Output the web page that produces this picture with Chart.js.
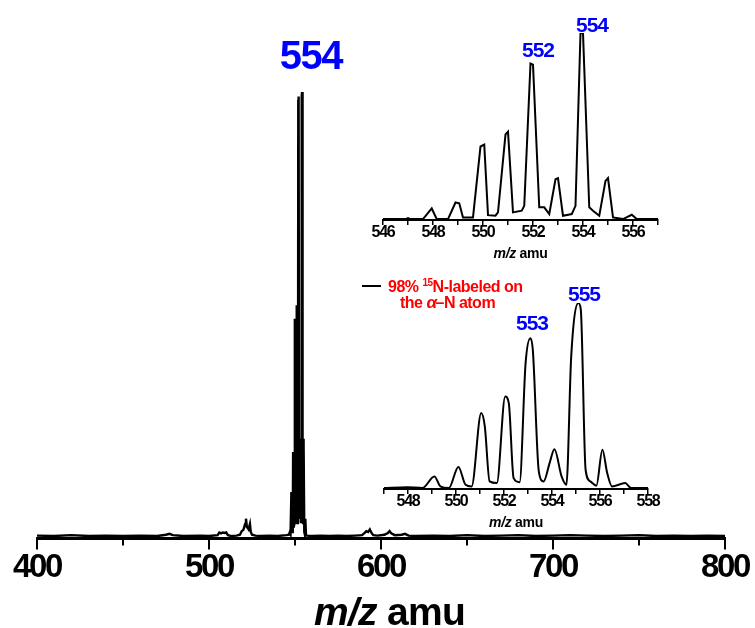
<!DOCTYPE html>
<html><head><meta charset="utf-8">
<script src="https://cdn.jsdelivr.net/npm/chart.js@4"></script>
<style>
html,body{margin:0;padding:0;background:#fff;}
#wrap{position:relative;width:755px;height:628px;overflow:hidden;background:#fff;}
canvas{position:absolute;}
#main{left:0;top:0;}
#in1{left:340px;top:0;}
#in2{left:340px;top:270px;}
</style></head><body>
<div id="wrap">
<canvas id="main" width="755" height="628"></canvas>
<canvas id="in1" width="360" height="270"></canvas>
<canvas id="in2" width="360" height="270"></canvas>
</div>
<script>
// ---------------- DATA ----------------
// Main spectrum (m/z, relative intensity)
const mainMz = [400,410,420,430,440,450,460,470,475,477,479,485,495,500,
  505,506,507,508,509,510,511,513,516,
  518,519,520,521,521.5,522,523,523.8,524.3,525,527,530,535,540,545,546.5,547,
  547.4,547.9,548.1,548.4,548.7,548.9,549.1,549.4,549.7,549.9,550.1,550.4,550.7,550.9,551.1,551.4,551.7,551.9,552.1,552.4,552.7,552.9,553.1,553.4,553.7,553.9,554.1,554.4,554.7,554.9,555.1,555.4,555.7,556,556.4,557,
  560,565,570,575,580,585,589,590.5,591.5,592.5,593.5,594.5,595.5,598,602,604,605,606,608,612,614,616,620,
  630,640,650,660,670,680,690,700,710,720,730,740,750,760,770,780,790,800];
const mainIntensity = [0.002,0.001,0.003,0.001,0.002,0.001,0.002,0.001,0.004,0.006,0.003,0.001,0.002,0.001,
  0.003,0.009,0.007,0.009,0.008,0.009,0.003,0.001,0.002,
  0.004,0.012,0.015,0.028,0.04,0.022,0.016,0.028,0.01,0.004,0.002,0.001,0.002,0.001,0.003,0.004,0.01,
  0.006,0.10,0.10,0.01,0.02,0.19,0.18,0.02,0.03,0.49,0.48,0.03,0.03,0.51,0.52,0.03,0.04,0.98,0.99,0.05,0.04,0.22,0.21,0.03,0.05,0.99,1.0,0.05,0.03,0.22,0.21,0.01,0.005,0.04,0.003,0.002,
  0.001,0.002,0.001,0.002,0.001,0.002,0.003,0.008,0.012,0.01,0.016,0.008,0.003,0.002,0.004,0.008,0.012,0.007,0.003,0.004,0.006,0.002,0.001,
  0.002,0.001,0.003,0.001,0.002,0.003,0.001,0.002,0.003,0.002,0.001,0.002,0.003,0.001,0.002,0.001,0.002,0.001];
const mainMajorTicks = [400,500,600,700,800];
const mainMinorTicks = [450,550,650,750];
const mainPeakLabels = ['554'];
const mainPeakMz = [554];

// Inset 1 (unlabeled)
const inset1Mz = [546.0,546.9,547.0,547.1,547.6,547.95,548.15,548.6,548.9,549.05,549.2,549.6,549.9,550.05,550.2,550.5,550.6,550.9,551.0,551.2,551.55,551.65,551.9,552.0,552.25,552.45,552.65,552.9,553.0,553.2,553.55,553.7,553.9,554.0,554.25,554.4,554.65,554.9,555.0,555.2,555.6,555.95,556.15,557.0];
const inset1Intensity = [0,0,0.005,0,0,0.057,0,0,0.089,0.085,0.009,0.009,0.39,0.40,0.021,0.018,0.036,0.455,0.47,0.036,0.045,0.071,0.836,0.83,0.063,0.063,0.027,0.214,0.22,0.018,0.027,0.071,1.0,1.0,0.063,0.045,0.018,0.205,0.22,0.009,0,0.023,0,0];
const inset1TickValues = [546,547,548,549,550,551,552,553,554,555,556,557];
const inset1PeakLabels = ['552','554'];
const inset1PeakMz = [552,554];

// Inset 2 (98% 15N-labeled)
const inset2Mz = [547.0,547.95,548.6,549.1,549.35,549.7,550.1,550.4,550.65,551.05,551.2,551.4,551.7,552.05,552.2,552.4,552.65,552.9,553.1,553.2,553.45,553.65,553.9,554.1,554.4,554.6,554.8,555.1,555.2,555.4,555.6,555.85,556.1,556.3,556.5,557.05,557.3,558.0];
const inset2Intensity = [0,0.005,0,0.063,0.009,0,0.114,0.018,0.009,0.405,0.333,0.036,0.027,0.495,0.459,0.054,0.032,0.676,0.81,0.748,0.090,0.036,0.135,0.21,0.063,0.018,0.710,1.0,0.964,0.099,0.036,0.013,0.207,0.081,0.009,0.027,0,0];
const inset2TickValues = [547,548,549,550,551,552,553,554,555,556,557,558];
const inset2PeakLabels = ['553','555'];
const inset2PeakMz = [553,555];

const legendLine1 = ['98% ', '15', 'N-labeled on'];
const legendLine2 = ['the ', '\u03B1', '\u2013N atom'];
const axisTitleItalic = 'm/z';
const axisTitleRest = ' amu';

// ---------------- STYLE ----------------
const FONT = '"Liberation Sans", Arial, Helvetica, sans-serif';
const BLUE = '#0000ff';
const RED = '#ff0000';

function toXY(xs, ys){ return xs.map((x,i)=>({x:x, y:ys[i]})); }
function peakValue(xs, ys, m){ let best=0; xs.forEach((x,i)=>{ if(Math.abs(x-m)<=0.25 && ys[i]>best) best=ys[i]; }); return best; }

function spacingPlugin(sp){
  return {
    id:'spacing',
    beforeLayout(c){ c.ctx.letterSpacing = sp; },
    beforeDraw(c){ c.ctx.letterSpacing = sp; }
  };
}

function drawTitle(ctx, cx, baseline, size, spacing){
  ctx.save();
  ctx.letterSpacing = spacing;
  ctx.fillStyle = '#000';
  ctx.textBaseline = 'alphabetic';
  ctx.textAlign = 'left';
  ctx.font = 'italic bold ' + size + 'px ' + FONT;
  const w1 = ctx.measureText(axisTitleItalic).width;
  ctx.font = 'bold ' + size + 'px ' + FONT;
  const w2 = ctx.measureText(axisTitleRest).width;
  let x = cx - (w1 + w2)/2;
  ctx.font = 'italic bold ' + size + 'px ' + FONT;
  ctx.fillText(axisTitleItalic, x, baseline);
  ctx.font = 'bold ' + size + 'px ' + FONT;
  ctx.fillText(axisTitleRest, x + w1, baseline);
  ctx.restore();
}

function drawPeakLabels(chart, labels, mzs, xsData, ysData, size, offsets, spacing){
  const ctx = chart.ctx, xs = chart.scales.x, ys = chart.scales.y;
  ctx.save();
  ctx.letterSpacing = spacing;
  ctx.fillStyle = BLUE;
  ctx.font = 'bold ' + size + 'px ' + FONT;
  ctx.textAlign = 'center';
  ctx.textBaseline = 'alphabetic';
  labels.forEach((t,i)=>{
    const px = xs.getPixelForValue(mzs[i]) + offsets[i][0];
    const py = ys.getPixelForValue(peakValue(xsData, ysData, mzs[i])) - offsets[i][1];
    ctx.fillText(t, px, py);
  });
  ctx.restore();
}

// ---------------- MAIN CHART ----------------
new Chart(document.getElementById('main'), {
  type: 'line',
  data: { datasets: [{ data: toXY(mainMz, mainIntensity), borderColor:'#000', borderWidth:2.4, pointRadius:0, tension:0, fill:false }] },
  options: {
    responsive:false, animation:false, events:[],
    layout:{ padding:{ left:37, right:30, top:92, bottom:0 } },
    plugins:{ legend:{display:false}, tooltip:{enabled:false} },
    scales:{
      x:{ type:'linear', min:400, max:800,
        border:{ display:true, color:'#000', width:3 },
        grid:{ drawOnChartArea:false, drawTicks:true, tickLength:11, color:'#000', lineWidth:2 },
        afterBuildTicks(s){ s.ticks = mainMajorTicks.map(v=>({value:v})); },
        ticks:{ color:'#000', font:{ family:FONT, size:33, weight:'bold', lineHeight:1 }, padding:2, maxRotation:0, autoSkip:false },
        afterFit(s){ s.height = 89.5; }
      },
      y:{ display:false, min:-0.0045, max:1.0 }
    }
  },
  plugins:[ spacingPlugin('-2.3px'), {
    id:'mainExtras',
    afterDraw(chart){
      const ctx = chart.ctx, a = chart.chartArea, xs = chart.scales.x;
      // minor ticks
      ctx.save();
      ctx.strokeStyle = '#000'; ctx.lineWidth = 2;
      mainMinorTicks.forEach(v=>{
        const px = Math.round(xs.getPixelForValue(v));
        ctx.beginPath(); ctx.moveTo(px, a.bottom); ctx.lineTo(px, a.bottom + 7); ctx.stroke();
      });
      ctx.restore();
      // axis title
      drawTitle(ctx, (a.left + a.right)/2 + 8.5, 625, 39, '-0.7px');
      // peak label
      drawPeakLabels(chart, mainPeakLabels, mainPeakMz, mainMz, mainIntensity, 40, [[9, 23]], '-1.5px');
      // legend
      ctx.save();
      ctx.letterSpacing = '-0.5px';
      ctx.strokeStyle = '#000'; ctx.lineWidth = 2;
      ctx.beginPath(); ctx.moveTo(362, 286); ctx.lineTo(381, 286); ctx.stroke();
      ctx.fillStyle = RED; ctx.textAlign = 'left'; ctx.textBaseline = 'alphabetic';
      let x = 388;
      ctx.font = 'bold 16px ' + FONT;
      ctx.fillText(legendLine1[0], x, 291.5); x += ctx.measureText(legendLine1[0]).width;
      ctx.font = 'bold 10px ' + FONT;
      ctx.fillText(legendLine1[1], x, 285.5); x += ctx.measureText(legendLine1[1]).width;
      ctx.font = 'bold 16px ' + FONT;
      ctx.fillText(legendLine1[2], x, 291.5);
      x = 400;
      ctx.fillText(legendLine2[0], x, 308); x += ctx.measureText(legendLine2[0]).width;
      ctx.font = 'italic bold 17px ' + FONT;
      ctx.fillText(legendLine2[1], x, 308); x += ctx.measureText(legendLine2[1]).width;
      ctx.font = 'bold 16px ' + FONT;
      ctx.fillText(legendLine2[2], x - 1, 308);
      ctx.restore();
    }
  }]
});

// ---------------- INSETS ----------------
function makeInset(id, mz, inten, tickValues, labels, peakMz, pad, bottomH, monotone, offsets){
  new Chart(document.getElementById(id), {
    type:'line',
    data:{ datasets:[{ data: toXY(mz, inten), borderColor:'#000', borderWidth:2, pointRadius:0,
      tension: monotone ? 0.4 : 0, cubicInterpolationMode: monotone ? 'monotone' : 'default', fill:false }] },
    options:{
      responsive:false, animation:false, events:[],
      layout:{ padding:{ left:pad[0], right:pad[1], top:pad[2], bottom:0 } },
      plugins:{ legend:{display:false}, tooltip:{enabled:false} },
      scales:{
        x:{ type:'linear', min:tickValues[0], max:tickValues[tickValues.length-1],
          border:{ display:true, color:'#000', width:2 },
          grid:{ drawOnChartArea:false, drawTicks:true, tickLength:5, color:'#000', lineWidth:1.5 },
          afterBuildTicks(s){ s.ticks = tickValues.map(v=>({value:v})); },
          ticks:{ color:'#000', font:{ family:FONT, size:16, weight:'bold', lineHeight:1 }, padding:0, maxRotation:0, autoSkip:false,
            callback:(v)=> (v % 2 === 0 ? String(v) : '') },
          afterFit(s){ s.height = bottomH; }
        },
        y:{ display:false, min:-0.005, max:1.0 }
      }
    },
    plugins:[ spacingPlugin('-1.2px'), {
      id:'insetExtras',
      afterDraw(chart){
        const a = chart.chartArea;
        drawTitle(chart.ctx, (a.left + a.right)/2, a.bottom + 38, 14, '-0.3px');
        drawPeakLabels(chart, labels, peakMz, mz, inten, 21, offsets, '-1px');
      }
    }]
  });
}

makeInset('in1', inset1Mz, inset1Intensity, inset1TickValues, inset1PeakLabels, inset1PeakMz, [43, 42, 33], 50, false, [[5, 7], [9, 1]]);
makeInset('in2', inset2Mz, inset2Intensity, inset2TickValues, inset2PeakLabels, inset2PeakMz, [44, 52, 33], 51, true, [[4, 8], [8, 2]]);
</script>
</body></html>
